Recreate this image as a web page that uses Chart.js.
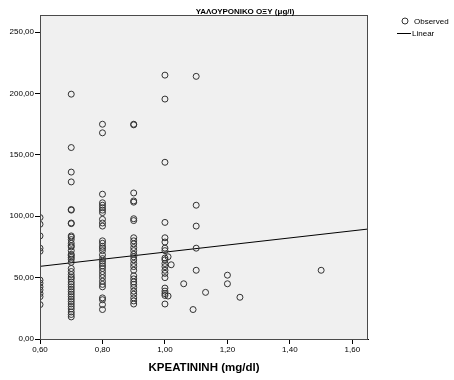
<!DOCTYPE html>
<html>
<head>
<meta charset="utf-8">
<script src="https://cdn.jsdelivr.net/npm/chart.js@4/dist/chart.umd.min.js"></script>
<style>
  html, body { margin: 0; padding: 0; background: #fff; }
  #wrap { width: 454px; height: 380px; position: relative; }
</style>
</head>
<body>
<div id="wrap"><canvas id="chart" width="454" height="380"></canvas></div>
<script>
// Κρεατινίνη (x) - Υαλουρονικό οξύ (y), τιμές ανά στήλη
var crea060 = [99, 93.5, 84, 74, 71.5, 48, 45.5, 42.5, 40, 37, 34.5, 28];
var crea070 = [199.5, 156, 136, 128, 105.5, 105, 94.5, 94, 84, 83, 81, 78, 76, 75, 72, 69, 68, 66.5, 65, 62.5,
               57.5, 55, 52.5, 50.5, 49, 46.5, 44.5, 42.5, 40.5, 38.5, 36.5, 34.5, 32.5, 30.5, 28.5, 26.5,
               24.5, 22, 20, 18];
var crea080 = [175, 168, 118, 111, 109, 107, 105, 103, 97.5, 94.5, 92, 80, 78, 75.5, 74, 72, 68.5, 65.5,
               63.5, 61.5, 59.5, 57.5, 55, 52.5, 50, 47, 44.5, 42.5, 33.5, 32, 28, 24];
var crea090 = [175, 174.5, 119, 112.5, 111.5, 98, 96.5, 82.5, 80, 77.5, 74.5, 72, 69, 67, 64.5, 61.5, 59,
               56, 51.5, 49, 46.5, 44.5, 42, 39, 36.5, 33.5, 31, 28.5];
var crea100 = [215, 195.5, 144, 95, 82.5, 79, 74, 72, 66, 64.5, 61.5, 59, 56, 53.5, 50, 41.5, 39, 37, 35.5, 28.5];
// μεμονωμένα σημεία
var otherX = [1.01, 1.01, 1.02, 1.06, 1.09, 1.10, 1.10, 1.10, 1.10, 1.10, 1.13, 1.20, 1.20, 1.24, 1.50];
var otherY = [67, 35, 60.5, 45, 24, 214, 109, 92, 74, 56, 38, 52, 45, 34, 56];
// γραμμική προσαρμογή
var fitX = [0.60, 1.65];
var fitY = [59.2, 89.6];
var xTicks = [0.6, 0.8, 1.0, 1.2, 1.4, 1.6];
var yTicks = [0, 50, 100, 150, 200, 250];

function column(x, ys) {
    return ys.map(function(y) { return { x: x, y: y }; });
}

var observed = []
    .concat(column(0.6, crea060))
    .concat(column(0.7, crea070))
    .concat(column(0.8, crea080))
    .concat(column(0.9, crea090))
    .concat(column(1.0, crea100))
    .concat(otherX.map(function(x, i) { return { x: x, y: otherY[i] }; }));

var linear = fitX.map(function(x, i) { return { x: x, y: fitY[i] }; });

function comma(v) { return Number(v).toFixed(2).replace('.', ','); }

// φόντο, πλαίσιο, τίτλος και υπόμνημα σαν SPSS
var spssLook = {
    id: 'spssLook',
    beforeDraw: function(chart) {
        var a = chart.chartArea, ctx = chart.ctx;
        ctx.save();
        ctx.fillStyle = '#f0f0f0';
        ctx.fillRect(a.left, a.top, a.right - a.left, a.bottom - a.top);
        ctx.restore();
    },
    afterDraw: function(chart) {
        var a = chart.chartArea, ctx = chart.ctx;
        ctx.save();
        ctx.strokeStyle = '#4a4a4a';
        ctx.lineWidth = 1;
        ctx.strokeRect(a.left + 0.5, a.top + 0.5, a.right - a.left - 1, a.bottom - a.top);

        ctx.fillStyle = '#000';
        ctx.font = 'bold 8px "Liberation Sans", Arial, sans-serif';
        ctx.textAlign = 'center';
        ctx.textBaseline = 'middle';
        ctx.fillText('ΥΑΛΟΥΡΟΝΙΚΟ ΟΞΥ (μg/l)', 245, 12);

        ctx.font = '8px "Liberation Sans", Arial, sans-serif';
        ctx.textAlign = 'left';
        ctx.beginPath();
        ctx.arc(405, 21, 3, 0, Math.PI * 2);
        ctx.strokeStyle = '#333';
        ctx.stroke();
        ctx.fillText('Observed', 414, 21.5);
        ctx.beginPath();
        ctx.moveTo(397, 33.5);
        ctx.lineTo(411, 33.5);
        ctx.strokeStyle = '#000';
        ctx.stroke();
        ctx.fillText('Linear', 412, 34);
        ctx.restore();
    }
};

new Chart(document.getElementById('chart'), {
    type: 'scatter',
    data: {
        datasets: [
            {
                label: 'Observed',
                data: observed,
                pointStyle: 'circle',
                pointRadius: 3,
                pointHoverRadius: 3,
                borderWidth: 1,
                borderColor: '#333',
                backgroundColor: 'rgba(0,0,0,0)',
                clip: 0
            },
            {
                type: 'line',
                label: 'Linear',
                data: linear,
                borderColor: '#000',
                borderWidth: 1,
                pointRadius: 0,
                fill: false,
                clip: 0
            }
        ]
    },
    options: {
        responsive: false,
        animation: false,
        events: [],
        layout: { padding: { left: 0, top: 15, right: 86, bottom: 0 } },
        plugins: { legend: { display: false }, tooltip: { enabled: false }, title: { display: false } },
        scales: {
            x: {
                type: 'linear',
                min: 0.6,
                max: 1.65,
                afterBuildTicks: function(s) { s.ticks = xTicks.map(function(v) { return { value: v }; }); },
                afterFit: function(s) { s.height = 41; },
                grid: { drawOnChartArea: false, drawTicks: true, tickLength: 5, color: '#000' },
                border: { display: true, color: '#000' },
                ticks: {
                    padding: 1,
                    maxRotation: 0,
                    color: '#000',
                    font: { family: '"Liberation Sans", Arial, sans-serif', size: 8 },
                    callback: function(v) { return comma(v); }
                },
                title: {
                    display: true,
                    text: 'KPEATININH (mg/dl)',
                    color: '#000',
                    font: { family: '"Liberation Sans", Arial, sans-serif', size: 11.5, weight: 'bold' },
                    padding: { top: 0, bottom: 5 }
                }
            },
            y: {
                type: 'linear',
                min: 0,
                max: 264,
                afterBuildTicks: function(s) { s.ticks = yTicks.map(function(v) { return { value: v }; }); },
                afterFit: function(s) { s.width = 40; },
                grid: { drawOnChartArea: false, drawTicks: true, tickLength: 5, color: '#000' },
                border: { display: true, color: '#000' },
                ticks: {
                    padding: 1,
                    color: '#000',
                    font: { family: '"Liberation Sans", Arial, sans-serif', size: 8 },
                    callback: function(v) { return comma(v); }
                }
            }
        }
    },
    plugins: [spssLook]
});
</script>
</body>
</html>
